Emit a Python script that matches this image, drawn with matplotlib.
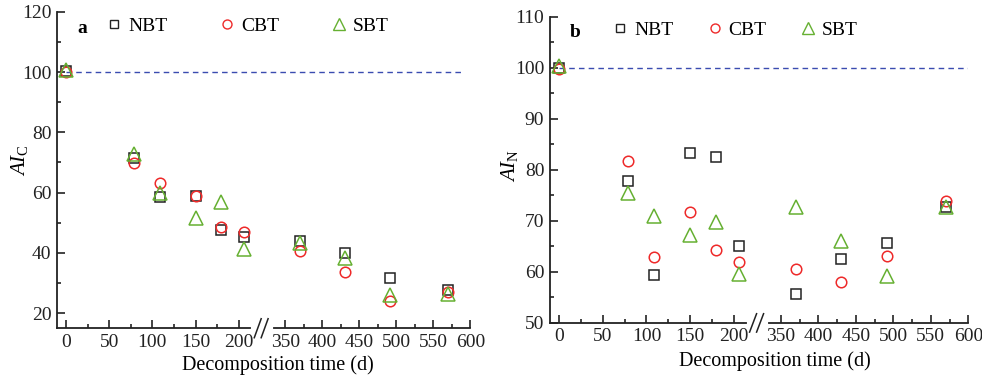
#!/usr/bin/env python

"""Alkyl index (AI) of litter during decomposition, broken time axis."""

import numpy as np
import matplotlib
matplotlib.use('Agg')
import matplotlib.pyplot as plt
from matplotlib.lines import Line2D

plt.rcParams['font.family'] = ['Liberation Serif', 'DejaVu Serif']
plt.rcParams['mathtext.fontset'] = 'custom'
plt.rcParams['mathtext.rm'] = 'Liberation Serif'
plt.rcParams['mathtext.it'] = 'Liberation Serif:italic'

# sampling days
days = [0, 79, 109, 150, 180, 206, 370, 430, 491, 570]

# panel a: AI_C
nbt_c = [100.2, 71.5, 58.5, 58.9, 47.6, 45.1, 44.1, 39.9, 31.5, 27.7]
cbt_c = [100.0, 69.7, 63.3, 58.9, 48.5, 46.8, 40.7, 33.5, 24.1, 27.0]
sbt_c = [100.8, 72.8, 59.8, 51.5, 56.9, 41.2, 43.4, 38.2, 25.9, 26.3]

# panel b: AI_N
nbt_n = [100.0, 77.8, 59.3, 83.3, 82.5, 65.0, 55.7, 62.6, 65.6, 72.8]
cbt_n = [99.8, 81.8, 62.9, 71.8, 64.3, 61.9, 60.6, 58.0, 63.2, 73.9]
sbt_n = [100.4, 75.4, 71.0, 67.3, 69.7, 59.6, 72.8, 66.0, 59.1, 72.8]

major_days = [0, 50, 100, 150, 200, 350, 400, 450, 500, 550, 600]
minor_days = [25, 75, 125, 175, 375, 425, 475, 525, 575]

series = [('NBT', 's', '#222222', 6.5), ('CBT', 'o', '#ee2a2a', 7.6),
          ('SBT', '^', '#66b032', 10.2)]


def brk(x):
    """Map days onto the broken axis (200 -> 350 gap squeezed)."""
    x = np.asarray(x, dtype=float)
    return np.where(x <= 215, x, 254 + (x - 350) * 0.857)


def setup(ax, ylim, major_y, minor_y, ylabel, tag, leg_x, colsp, line_end,
          ylab_xy, xlab_xy):
    ax.set_xlim(-10.5, float(brk(600)))
    ax.set_ylim(*ylim)
    ax.set_xticks(brk(major_days))
    ax.set_xticklabels([str(d) for d in major_days])
    ax.set_xticks(brk(minor_days), minor=True)
    ax.set_yticks(major_y)
    ax.set_yticks(minor_y, minor=True)
    for s in ('top', 'right'):
        ax.spines[s].set_visible(False)
    for s in ('left', 'bottom'):
        ax.spines[s].set_linewidth(1.3)
        ax.spines[s].set_color('#222222')
    ax.tick_params(which='major', direction='in', length=6, width=1.2,
                   labelsize=14, pad=4, colors='#222222')
    ax.tick_params(which='minor', direction='in', length=3, width=1.2,
                   colors='#222222')
    ax.set_xlabel('Decomposition time (d)', fontsize=14.5, va='top')
    ax.set_ylabel(ylabel, fontsize=15)
    ax.xaxis.set_label_coords(*xlab_xy)
    ax.yaxis.set_label_coords(*ylab_xy)
    ax.text(0.06, 0.948, tag, transform=ax.transAxes, fontsize=14,
            fontweight='bold', ha='center', va='center')

    # reference line at 100
    ax.hlines(100, brk(0), brk(line_end), colors='#3a4cb0',
              linestyles=(0, (4, 3)), linewidth=1.0, zorder=1)

    # axis break marks on the bottom spine
    trans = ax.get_xaxis_transform()
    ax.plot([217, 237], [0, 0], color='white', lw=3, transform=trans,
            clip_on=False, zorder=5)
    for c in (222, 230):
        ax.plot([c - 4, c + 4], [-0.03, 0.03], color='#222222', lw=1.1,
                transform=trans, clip_on=False, zorder=6)

    handles = [Line2D([], [], ls='none', marker=m, mfc='none', mec=c,
                      ms=ms * 0.85, mew=1.0, label=n)
               for n, m, c, ms in series]
    ax.legend(handles=handles, ncol=3, loc='center left',
              bbox_to_anchor=(leg_x, 0.955), frameon=False, fontsize=14,
              handlelength=0.8, handletextpad=0.3, columnspacing=colsp,
              borderpad=0, borderaxespad=0)


def draw(ax, values):
    for (name, marker, color, ms), vals in zip(series, values):
        ax.plot(brk(days), vals, ls='none', marker=marker, mfc='none',
                mec=color, ms=ms, mew=1.1, label=name, clip_on=False,
                zorder=3)


def main():
    fig = plt.figure(figsize=(9.82, 3.79), dpi=100)
    ax1 = fig.add_axes([0.058, 0.134, 0.421, 0.835])
    ax2 = fig.add_axes([0.560, 0.148, 0.426, 0.808])

    draw(ax1, [nbt_c, cbt_c, sbt_c])
    setup(ax1, (15, 120), np.arange(20, 121, 20), np.arange(30, 120, 20),
          r'$AI_{\mathrm{C}}$', 'a', 0.12, 2.7, 590,
          (-0.065, 0.53), (0.535, -0.085))

    draw(ax2, [nbt_n, cbt_n, sbt_n])
    setup(ax2, (50, 110), np.arange(50, 111, 10), np.arange(55, 110, 10),
          r'$AI_{\mathrm{N}}$', 'b', 0.15, 1.75, 600,
          (-0.072, 0.515), (0.538, -0.092))

    fig.savefig('out.png', dpi=100)


if __name__ == '__main__':
    main()
